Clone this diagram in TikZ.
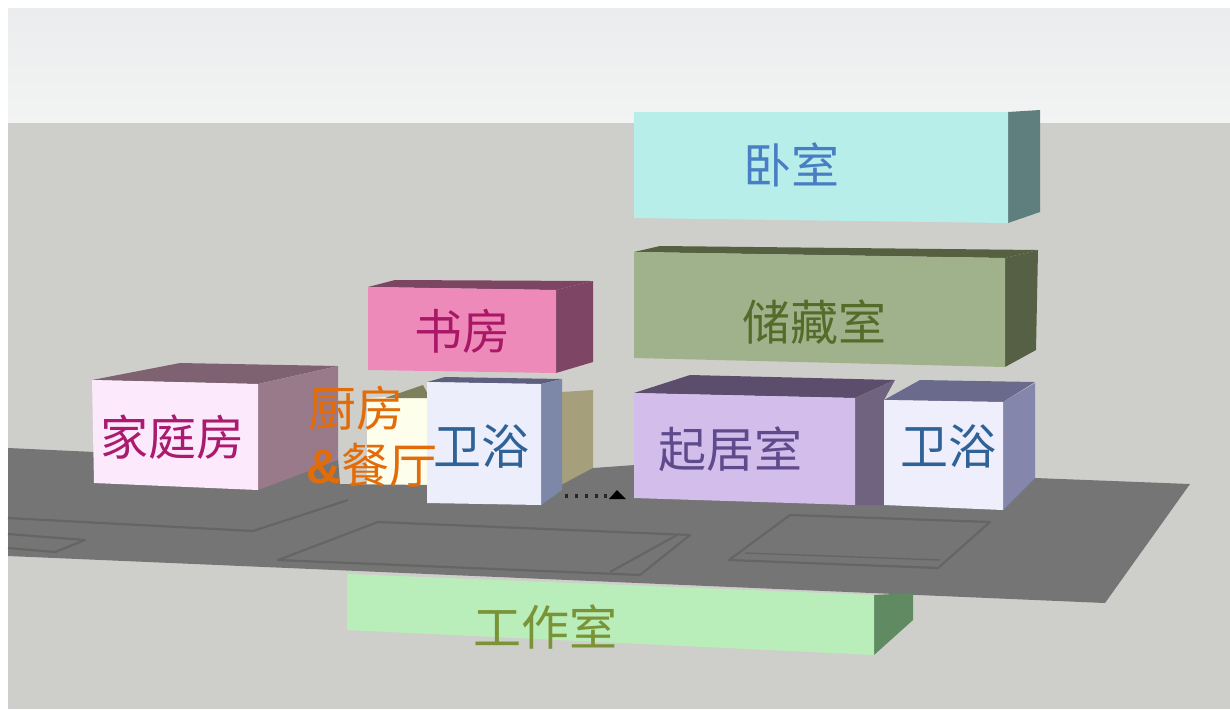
\documentclass[tikz,border=0pt]{standalone}
\usepackage{fontspec}
\setmainfont{Liberation Sans}
\newfontfamily\cjk{Noto Sans CJK SC}
\definecolor{wallgray}{HTML}{CECFCA}
\definecolor{floorgray}{HTML}{747574}
\definecolor{floorline}{HTML}{646664}
\definecolor{bandtop}{HTML}{EBECED}
\definecolor{bandlow}{HTML}{F2F3F3}
\tikzset{
  roomlabel/.style={inner sep=0pt,font=\cjk\fontsize{24}{28}\selectfont},
  facepoly/.style={draw=none},
  floorstroke/.style={draw=floorline,line width=1.1pt,line join=round},
}
\begin{document}
\begin{tikzpicture}[x=0.5pt,y=-0.5pt]
\useasboundingbox (0,0) rectangle (1230,709);
% background
\fill[white] (0,0) rectangle (1230,709);
\fill[wallgray] (8,122) rectangle (1230,709);
\shade[top color=bandtop,bottom color=bandlow] (8,8) rectangle (1230,122);
% kitchen
\fill[facepoly,fill={rgb,255:red,253;green,254;blue,235}] (367,398) -- (428,395) -- (428,487) -- (367,487) -- cycle;
\fill[facepoly,fill={rgb,255:red,126;green,128;blue,92}] (385,398) -- (423,385) -- (430,398) -- cycle;
\fill[facepoly,fill={rgb,255:red,165;green,159;blue,124}] (562,392) -- (593,390) -- (593,470) -- (562,490) -- cycle;
% floor
\fill[floorgray] (8,448) -- (95,452) -- (258,470) -- (338,458) -- (340,484) -- (430,485) -- (563,484) -- (593,468) -- (635,465) -- (1035,478) -- (1190,484) -- (1105,603) -- (8,556) -- cycle;
% floor lines
\draw[floorstroke] (348,500) -- (253,531) -- (8,518);
\draw[floorstroke] (8,534) -- (85,540) -- (55,552) -- (8,548);
\draw[floorstroke] (278,560) -- (378,522) -- (690,535) -- (640,575) -- cycle;
\draw[floorstroke] (729,560) -- (790,515) -- (990,522) -- (938,568) -- cycle;
\draw[floorstroke,line width=0.7pt] (745,553) -- (940,560);
\draw[floorstroke] (677,535) -- (610,572);
% dotted marks
\foreach \px in {565,575,585,595,604}{\fill[black!85] (\px,494) rectangle +(3,4);}
\fill[black] (609,499) -- (617,490) -- (626,499) -- cycle;
% study
\fill[facepoly,fill={rgb,255:red,124;green,69;blue,98}] (368,287) -- (395,280) -- (593,281) -- (556,290) -- cycle;
\fill[facepoly,fill={rgb,255:red,126;green,69;blue,101}] (556,290) -- (593,281) -- (593,362) -- (556,373) -- cycle;
\fill[facepoly,fill={rgb,255:red,238;green,138;blue,186}] (368,287) -- (556,290) -- (556,373) -- (368,370) -- cycle;
% family room
\fill[facepoly,fill={rgb,255:red,127;green,98;blue,114}] (92,380) -- (180,363) -- (338,366) -- (258,384) -- cycle;
\fill[facepoly,fill={rgb,255:red,153;green,122;blue,138}] (258,384) -- (338,366) -- (338,460) -- (258,490) -- cycle;
\fill[facepoly,fill={rgb,255:red,253;green,233;blue,252}] (92,380) -- (258,384) -- (258,490) -- (94,483) -- cycle;
% bath 1
\fill[facepoly,fill={rgb,255:red,94;green,95;blue,127}] (427,382) -- (445,377) -- (562,379) -- (541,384) -- cycle;
\fill[facepoly,fill={rgb,255:red,125;green,135;blue,168}] (541,384) -- (562,379) -- (562,490) -- (541,505) -- cycle;
\fill[facepoly,fill={rgb,255:red,236;green,238;blue,252}] (427,382) -- (541,384) -- (541,505) -- (427,503) -- cycle;
% bedroom
\fill[facepoly,fill={rgb,255:red,95;green,127;blue,126}] (1008,112) -- (1040,110) -- (1040,212) -- (1008,223) -- cycle;
\fill[facepoly,fill={rgb,255:red,184;green,238;blue,234}] (634,112) -- (1008,112) -- (1008,223) -- (634,218) -- cycle;
% storage
\fill[facepoly,fill={rgb,255:red,85;green,96;blue,64}] (634,252) -- (660,246) -- (1038,250) -- (1005,258) -- cycle;
\fill[facepoly,fill={rgb,255:red,85;green,96;blue,68}] (1005,258) -- (1038,250) -- (1036,350) -- (1005,367) -- cycle;
\fill[facepoly,fill={rgb,255:red,160;green,178;blue,139}] (634,252) -- (1005,258) -- (1005,367) -- (634,358) -- cycle;
% living room
\fill[facepoly,fill={rgb,255:red,91;green,77;blue,107}] (634,393) -- (690,375) -- (895,380) -- (855,398) -- cycle;
\fill[facepoly,fill={rgb,255:red,111;green,99;blue,127}] (855,398) -- (895,380) -- (884,400) -- (884,505) -- (855,505) -- cycle;
\fill[facepoly,fill={rgb,255:red,210;green,189;blue,235}] (634,393) -- (855,398) -- (855,505) -- (634,498) -- cycle;
% bath 2
\fill[facepoly,fill={rgb,255:red,105;green,106;blue,140}] (884,400) -- (920,380) -- (1035,382) -- (1003,402) -- cycle;
\fill[facepoly,fill={rgb,255:red,132;green,134;blue,171}] (1003,402) -- (1035,383) -- (1035,478) -- (1003,510) -- cycle;
\fill[facepoly,fill={rgb,255:red,238;green,238;blue,252}] (884,400) -- (1003,402) -- (1003,510) -- (884,505) -- cycle;
% studio
\fill[facepoly,fill={rgb,255:red,95;green,138;blue,98}] (874,595) -- (913,593) -- (913,620) -- (874,655) -- cycle;
\fill[facepoly,fill={rgb,255:red,185;green,237;blue,185}] (347,574) -- (874,595) -- (874,655) -- (347,630) -- cycle;
% labels
\node[roomlabel,text={rgb,255:red,74;green,126;blue,196}] (bedroom) at (791,165) {卧室};
\node[roomlabel,text={rgb,255:red,85;green,107;blue,42}] (storage) at (814,322) {储藏室};
\node[roomlabel,text={rgb,255:red,169;green,23;blue,103}] (study) at (462,331) {书房};
\node[roomlabel,text={rgb,255:red,170;green,26;blue,110}] (family) at (172,437) {家庭房};
\node[roomlabel,text={rgb,255:red,227;green,108;blue,10}] (kitchena) at (356,408) {厨房};
\node[roomlabel,text={rgb,255:red,227;green,108;blue,10}] (kitchenb) at (372,465) {{\fontspec{Liberation Sans}\bfseries\&}餐厅};
\node[roomlabel,text={rgb,255:red,47;green,98;blue,150}] (batha) at (481,447) {卫浴};
\node[roomlabel,text={rgb,255:red,95;green,74;blue,139}] (living) at (730,449) {起居室};
\node[roomlabel,text={rgb,255:red,47;green,98;blue,150}] (bathb) at (948,447) {卫浴};
\node[roomlabel,text={rgb,255:red,122;green,147;blue,54}] (studio) at (545,627) {工作室};
\end{tikzpicture}
\end{document}
